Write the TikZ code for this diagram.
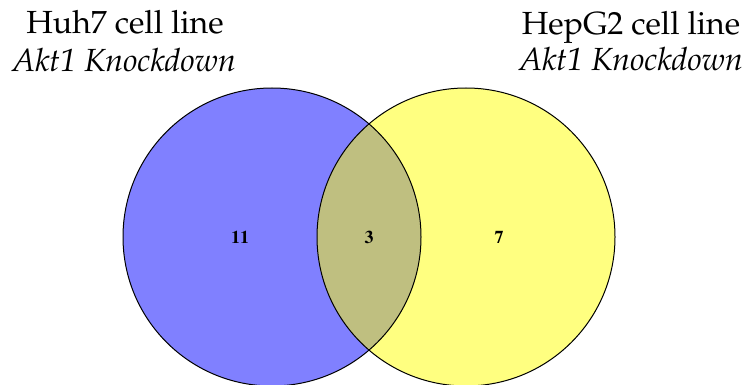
\documentclass[tikz,border=0pt]{standalone}
\usepackage[T1]{fontenc}
\usepackage{mathpazo}
\usetikzlibrary{positioning}
\definecolor{vennBlue}{HTML}{8080FF}
\definecolor{vennYellow}{HTML}{FFFF80}
\definecolor{vennOlive}{HTML}{BFBF80}

\begin{document}
\begin{tikzpicture}[x=1pt,y=-1pt,
    setcircle/.style={circle,minimum size=298pt,inner sep=0pt},
    countlabel/.style={font=\fontfamily{ptm}\fontsize{18}{18}\selectfont\bfseries,inner sep=0pt},
    linelabel/.style={anchor=base,inner sep=0pt,font=\fontsize{32}{32}\selectfont},
    kdlabel/.style={anchor=base,inner sep=0pt,font=\fontsize{32}{32}\selectfont\itshape}]
  \useasboundingbox (0,0) rectangle (747,385);

  % the two sets
  \node[setcircle,fill=vennBlue] (huh) at (272,237) {};
  \node[setcircle,fill=vennYellow] (hep) at (466,237) {};
  \begin{scope}
    \clip (huh.center) circle (149pt);
    \fill[vennOlive] (hep.center) circle (149pt);
  \end{scope}
  \draw[line width=1pt] (huh.center) circle (149pt) (hep.center) circle (149pt);

  % counts
  \node[countlabel] (onlyhuh) at (240,237) {11};
  \node[countlabel] (both) at (369,237) {3};
  \node[countlabel] (onlyhep) at (499,237) {7};

  % titles
  \node[linelabel] (huhline) at (125,34) {Huh7 cell line};
  \node[kdlabel] (huhkd) at (124,72) {Akt1 Knockdown};
  \node[linelabel] (hepline) at (631,35) {HepG2 cell line};
  \node[kdlabel] (hepkd) at (631,71) {Akt1 Knockdown};
\end{tikzpicture}
\end{document}
